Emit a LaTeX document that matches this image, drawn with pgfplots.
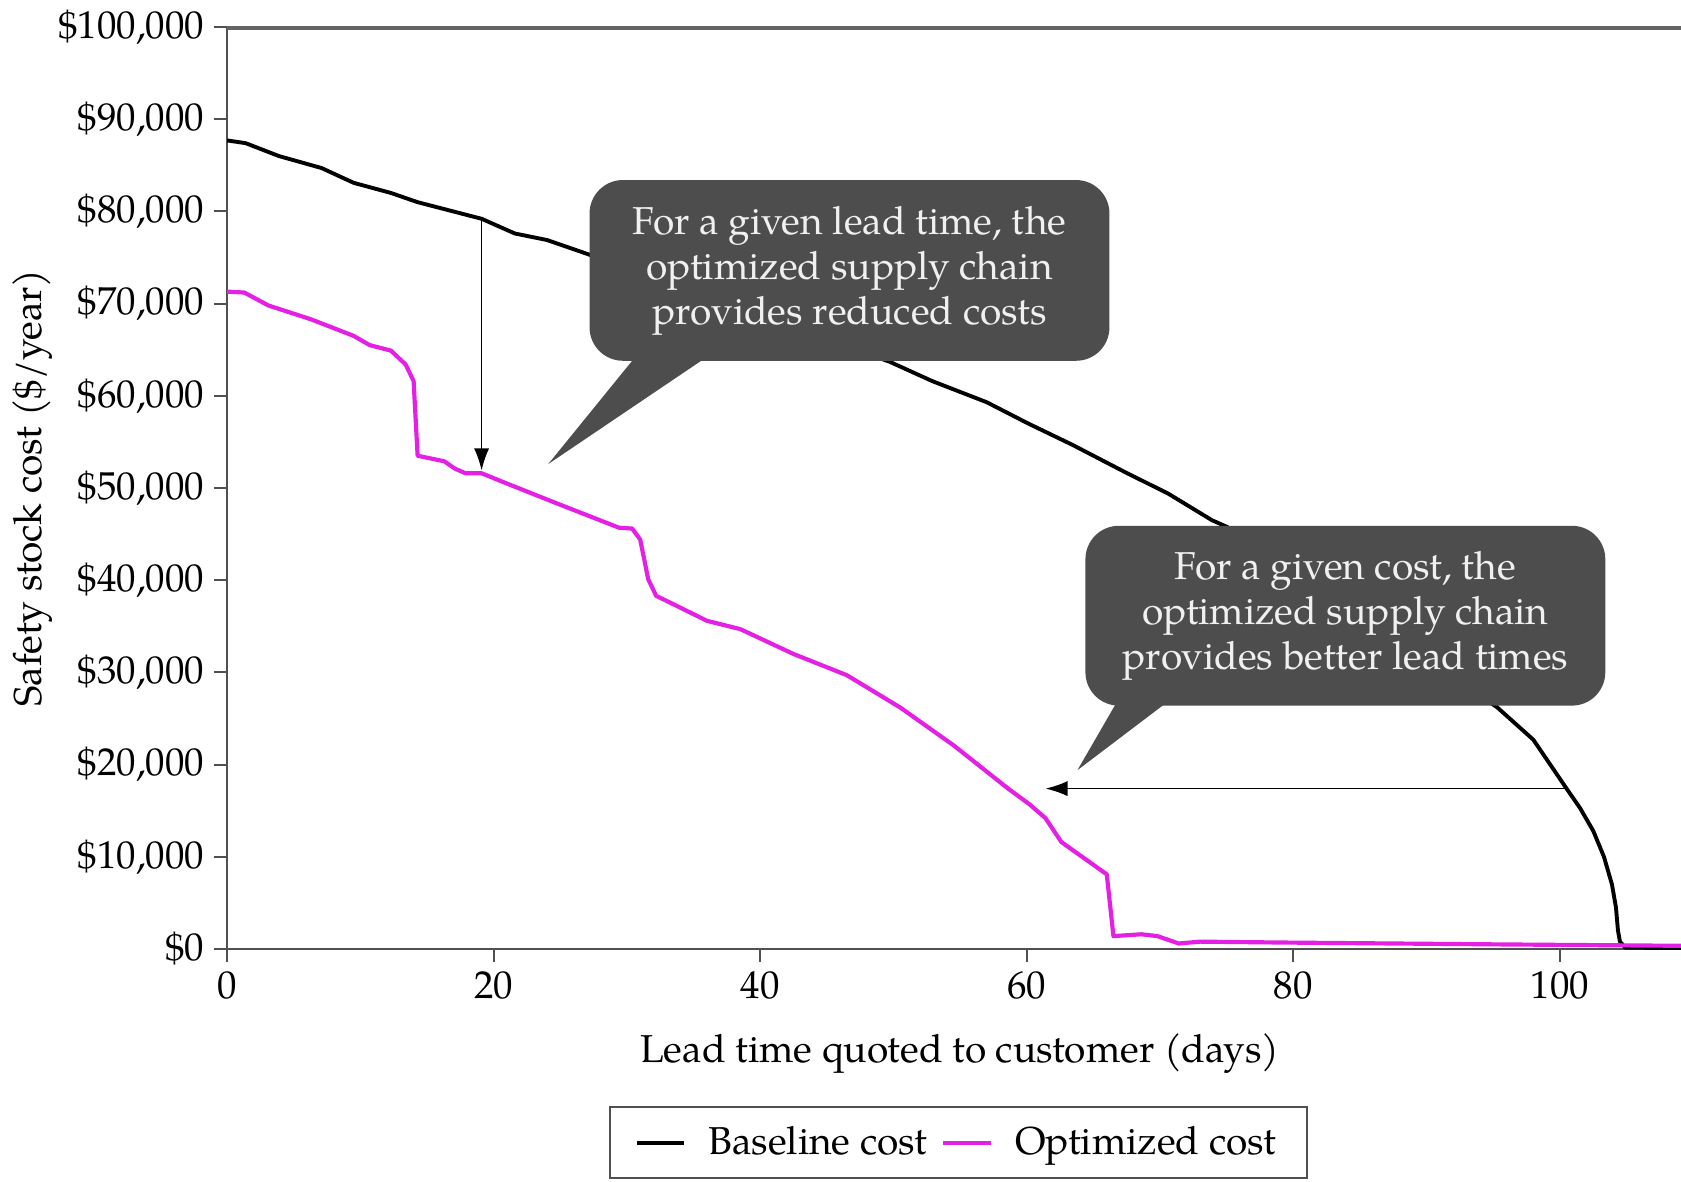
\documentclass[border=0pt]{standalone}
\usepackage{pgfplots}
\pgfplotsset{compat=1.18}
\usepackage{fontspec}
\setmainfont{TeX Gyre Pagella}
\usetikzlibrary{arrows.meta}
\definecolor{mag}{RGB}{228,32,228}
\definecolor{callout}{RGB}{77,77,77}
\definecolor{axisgray}{RGB}{80,80,80}
\definecolor{topgray}{RGB}{100,100,100}
\newcommand{\fs}{\fontsize{14}{16.2}\selectfont}
\begin{document}
\begin{tikzpicture}
\begin{axis}[
  scale only axis, width=523.4pt, height=331.9pt,
  xmin=0, xmax=109.08, ymin=0, ymax=100000,
  axis lines=left, axis line style={-, axisgray, line width=1pt},
  tick align=outside, major tick length=4.7pt,
  tick style={axisgray, line width=0.7pt},
  xtick={0,20,40,60,80,100}, xticklabels={0,20,40,60,80,100},
  ytick={0,10000,20000,30000,40000,50000,60000,70000,80000,90000,100000},
  yticklabels={\$0,{\$10,000},{\$20,000},{\$30,000},{\$40,000},{\$50,000},{\$60,000},{\$70,000},{\$80,000},{\$90,000},{\$100,000}},
  scaled y ticks=false,
  every tick label/.append style={font=\fs},
  label style={font=\fs},
  xlabel={Lead time quoted to customer (days)},
  ylabel={Safety stock cost (\$/year)},
  xlabel style={at={(axis description cs:0.504,-0.113)}, anchor=center},
  ylabel style={at={(axis description cs:-0.134,0.5)}, anchor=center},
  legend style={at={(axis description cs:0.503,-0.21)}, anchor=center,
    legend columns=2, draw=axisgray, line width=0.8pt, font=\fs,
    inner xsep=9pt, inner ysep=5pt,
    /tikz/every odd column/.append style={column sep=6pt},
    /tikz/every even column/.append style={column sep=3pt}},
]
\addplot[black, line width=1.4pt, line join=round] coordinates {
(0,87700) (1.4,87400) (3.9,86000) (7.1,84700) (9.5,83100) (12.3,82000)
(14.3,81000) (16.7,80100) (19.1,79200) (21.6,77600) (24.0,76900) (27.2,75300)
(32,72800) (38,69600) (44,66600) (49.7,63700) (52.9,61600) (57.0,59300)
(60.1,57000) (63.4,54700) (67.4,51700) (70.6,49400) (73.9,46500) (75,45800)
(80,41000) (85,36300) (90,31300) (95.3,26200) (98,22700) (100.4,17600)
(101.5,15300) (102.5,12800) (103.3,10000) (103.9,7000) (104.2,4500)
(104.35,2000) (104.5,800) (104.9,150) (109.08,100)
};
\addlegendentry{Baseline cost}
\addplot[mag, line width=1.5pt, line join=round] coordinates {
(0,71300) (1.3,71200) (3.1,69800) (6.3,68300) (9.5,66500) (10.7,65500)
(12.3,64900) (13.4,63400) (14.0,61600) (14.3,53500) (16.3,52900) (17.1,52100)
(17.9,51600) (19.1,51600) (20.8,50600) (24.8,48300) (29.4,45700) (30.4,45600)
(31.0,44400) (31.6,40100) (32.2,38300) (33.2,37600) (36.0,35600) (38.5,34700)
(42.5,32000) (46.5,29700) (50.5,26200) (54.5,22100) (58.6,17400) (60.2,15700)
(61.4,14200) (62.6,11600) (66.0,8100) (66.5,1400) (68.6,1600) (69.8,1400)
(71.4,600) (73.0,800) (79.5,700) (95.6,500) (109.08,350)
};
\addlegendentry{Optimized cost}
\draw[line width=2pt, topgray] (rel axis cs:0,1) -- (rel axis cs:1,1);
\draw[black, line width=0.6pt, -{Latex[length=8pt,width=5.5pt]}] (axis cs:19.1,79200) -- (axis cs:19.1,51900);
\draw[black, line width=0.6pt, -{Latex[length=8pt,width=5.5pt]}] (axis cs:100.4,17400) -- (axis cs:61.4,17400);
\fill[callout, rounded corners=12pt] (axis cs:27.2,83400) rectangle (axis cs:66.2,63800);
\fill[callout] (axis cs:30.96,64800) -- (axis cs:24.1,52600) -- (axis cs:36.6,64800) -- cycle;
\node[text=white!94!black, align=center, font=\fs] at (axis cs:46.7,73600)
  {For a given lead time, the\\optimized supply chain\\provides reduced costs};
\fill[callout, rounded corners=12pt] (axis cs:64.4,45900) rectangle (axis cs:103.4,26400);
\fill[callout] (axis cs:67.0,27400) -- (axis cs:63.8,19400) -- (axis cs:71.1,27400) -- cycle;
\node[text=white!94!black, align=center, font=\fs] at (axis cs:83.9,36150)
  {For a given cost, the\\optimized supply chain\\provides better lead times};
\coordinate (BBa) at (axis cs:-17.03,-25160);
\coordinate (BBb) at (axis cs:109.08,102930);
\end{axis}
\pgfresetboundingbox
\useasboundingbox (BBa) rectangle (BBb);
\end{tikzpicture}
\end{document}
